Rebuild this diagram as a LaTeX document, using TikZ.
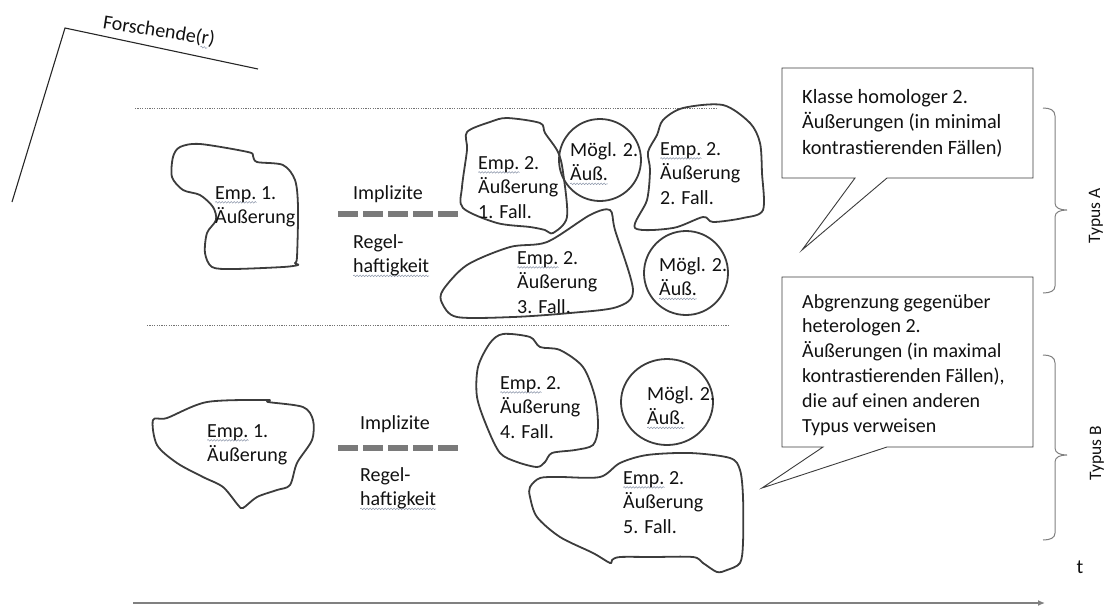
\documentclass[tikz,border=0pt]{standalone}
\usepackage{fontspec}
\setmainfont{Carlito}
\usetikzlibrary{arrows.meta,decorations.pathmorphing}
\definecolor{ink}{HTML}{111111}
\definecolor{outl}{HTML}{3C3C3C}
\definecolor{sqc}{HTML}{8A94A8}
\definecolor{dashcol}{HTML}{7A7A7A}
\newsavebox\sqbox
\newlength\sqlen
\newcommand\sqw[1]{\sbox\sqbox{#1}\setlength\sqlen{\wd\sqbox}\leavevmode\rlap{\tikz[overlay]\draw[sqc,line width=0.5pt,decorate,decoration={snake,segment length=3pt,amplitude=0.8pt}] (0pt,-3.2pt) -- (\sqlen,-3.2pt);}\usebox\sqbox}
\begin{document}
\begin{tikzpicture}[x=1pt,y=-1pt,
  blob/.style={draw=outl, line width=1.8pt, line join=round},
  txt/.style={anchor=north west, inner sep=0pt, align=left, text=ink, font=\fontsize{20}{24.5}\selectfont},
  btxt/.style={txt, font=\fontsize{20.3}{25.5}\selectfont},
  bub/.style={draw=outl, line width=0.9pt, fill=white, line join=miter},
  dotl/.style={draw=black!55, line width=0.6pt, dash pattern=on 1.2pt off 1.2pt},
  regel/.style={draw=dashcol, line width=6pt, dash pattern=on 19.5pt off 5.5pt},
  brc/.style={draw=black!50, line width=1pt},
  typ/.style={font=\fontsize{17.5}{20}\selectfont, rotate=90, text=ink, inner sep=0pt}]
\useasboundingbox (0,0) rectangle (1107,606);

% researcher angle
\coordinate (r1) at (12,202); \coordinate (r2) at (65,28); \coordinate (r3) at (258,69);
\draw[black!85, line width=1.1pt] (r1) -- (r2) -- (r3);
\node[font=\fontsize{20}{24}\selectfont, rotate=-9, text=ink, inner sep=0pt] (fo) at (159,31) {Forschende(\sqw{r})};

% dotted separators
\coordinate (d1a) at (135,108); \coordinate (d1b) at (718,108);
\coordinate (d2a) at (147,325); \coordinate (d2b) at (728,325);
\draw[dotl] (d1a) -- (d1b);
\draw[dotl] (d2a) -- (d2b);

% ---- Typus A blobs
\draw[blob] plot[smooth cycle, tension=0.5] coordinates {(180,147) (200,144) (248,152) (253,156) (257,162) (283,165) (295,180) (298,207) (297,257) (295,263) (298,265) (283,267) (233,269) (212,267) (205,253) (207,233) (216,220) (213,207) (200,195) (183,190) (172,177) (173,157)};
\draw[blob] plot[smooth cycle, tension=0.5] coordinates {(467,132) (490,122) (507,118) (540,123) (545,133) (558,152) (563,172) (567,217) (553,233) (545,230) (530,227) (497,223) (463,208) (462,187) (467,150)};
\draw[blob] plot[smooth cycle, tension=0.5] coordinates {(663,120) (683,108) (723,105) (750,123) (760,143) (762,173) (763,210) (743,218) (713,222) (703,217) (673,228) (635,228) (647,200) (650,170) (648,152) (657,135)};
\draw[blob] plot[smooth cycle, tension=0.5] coordinates {(443,290) (467,265) (510,247) (547,242) (590,215) (610,210) (615,230) (633,290) (617,307) (570,313) (513,317) (457,317) (442,303)};
\draw[blob] (600,160) circle[radius=41];
\draw[blob] (686,273) circle[radius=42];

% ---- Typus B blobs
\draw[blob] plot[smooth cycle, tension=0.5] coordinates {(153,420) (167,418) (207,402) (267,400) (268,402) (303,407) (313,420) (312,440) (297,463) (290,485) (277,490) (257,497) (243,508) (238,505) (223,487) (203,477) (177,463) (157,445)};
\draw[blob] plot[smooth cycle, tension=0.5] coordinates {(478,367) (490,343) (503,334) (530,337) (540,347) (560,350) (583,367) (595,397) (598,427) (593,445) (575,450) (552,453) (545,462) (537,467) (517,462) (500,453) (487,427) (477,397)};
\draw[blob] plot[smooth cycle, tension=0.5] coordinates {(530,487) (540,478) (560,477) (600,477) (620,463) (647,455) (690,453) (730,458) (740,470) (743,497) (743,543) (740,563) (727,570) (717,572) (703,563) (693,557) (653,557) (620,557) (612,560) (610,563) (593,553) (560,537) (537,517) (530,497)};
\draw[blob] (667,402) ellipse[x radius=46, y radius=43];

% implicit regularity dashes
\coordinate (ra1) at (338,214); \coordinate (ra2) at (460,214);
\coordinate (rb1) at (338,448); \coordinate (rb2) at (460,448);
\draw[regel] (ra1) -- (ra2);
\draw[regel] (rb1) -- (rb2);

% texts Typus A
\node[txt] (e1a) at (215,186) {\sqw{Emp.} 1.\\Äußerung};
\node[txt] (impa) at (353,185) {Implizite};
\node[txt] (rega) at (353,234) {Regel-\\\sqw{haftigkeit}};
\node[txt] (f1) at (478,156) {\sqw{Emp.} 2.\\Äußerung\\1. Fall.};
\node[txt] (m1) at (570,142) {Mögl. 2.\\\sqw{Äuß.}};
\node[txt] (f2) at (660,142) {\sqw{Emp.} 2.\\Äußerung\\2. Fall.};
\node[txt] (f3) at (517,251) {\sqw{Emp.} 2.\\Äußerung\\3. Fall.};
\node[txt] (m2) at (659,257) {Mögl. 2.\\\sqw{Äuß.}};

% texts Typus B
\node[txt] (e1b) at (207,424) {\sqw{Emp.} 1.\\Äußerung};
\node[txt] (impb) at (360,415) {Implizite};
\node[txt] (regb) at (360,467) {Regel-\\\sqw{haftigkeit}};
\node[txt] (f4) at (500,376) {\sqw{Emp.} 2.\\Äußerung\\4. Fall.};
\node[txt] (m3) at (647,386) {Mögl. 2.\\\sqw{Äuß.}};
\node[txt] (f5) at (623,471) {\sqw{Emp.} 2.\\Äußerung\\5. Fall.};

% speech bubbles
\draw[bub] (782,68) -- (1033,68) -- (1033,178) -- (887,178) -- (802,250) -- (855,178) -- (782,178) -- cycle;
\draw[bub] (782,277) -- (1033,277) -- (1033,447) -- (887,447) -- (762,488) -- (823,447) -- (782,447) -- cycle;
\node[btxt] (b1) at (802,89) {Klasse homologer 2.\\Äußerungen (in minimal\\kontrastierenden Fällen)};
\node[txt, font=\fontsize{20}{24.8}\selectfont] (b2) at (802,294) {Abgrenzung gegenüber\\heterologen 2.\\Äußerungen (in maximal\\kontrastierenden Fällen),\\die auf einen anderen\\Typus verweisen};

% braces
\draw[brc] (1043,108) .. controls (1050,108) and (1055,110) .. (1055,116) -- (1055,203) .. controls (1055,208) and (1060,210) .. (1067,210) .. controls (1060,210) and (1055,212) .. (1055,217) -- (1055,286) .. controls (1055,291) and (1050,293) .. (1043,293);
\draw[brc] (1043,355) .. controls (1050,355) and (1055,357) .. (1055,363) -- (1055,448) .. controls (1055,453) and (1060,455) .. (1067,455) .. controls (1060,455) and (1055,457) .. (1055,462) -- (1055,533) .. controls (1055,538) and (1050,540) .. (1043,540);
\node[typ] (ta) at (1096,216) {Typus A};
\node[typ] (tb) at (1097,453) {Typus B};

% time axis
\node[font=\fontsize{20}{24}\selectfont, text=ink, inner sep=0pt] (tl) at (1080,567) {t};
\coordinate (ts) at (133,603); \coordinate (te) at (1045,603);
\draw[draw=black!50, line width=1.8pt, -{Latex[length=7pt,width=6pt]}] (ts) -- (te);
\end{tikzpicture}
\end{document}
